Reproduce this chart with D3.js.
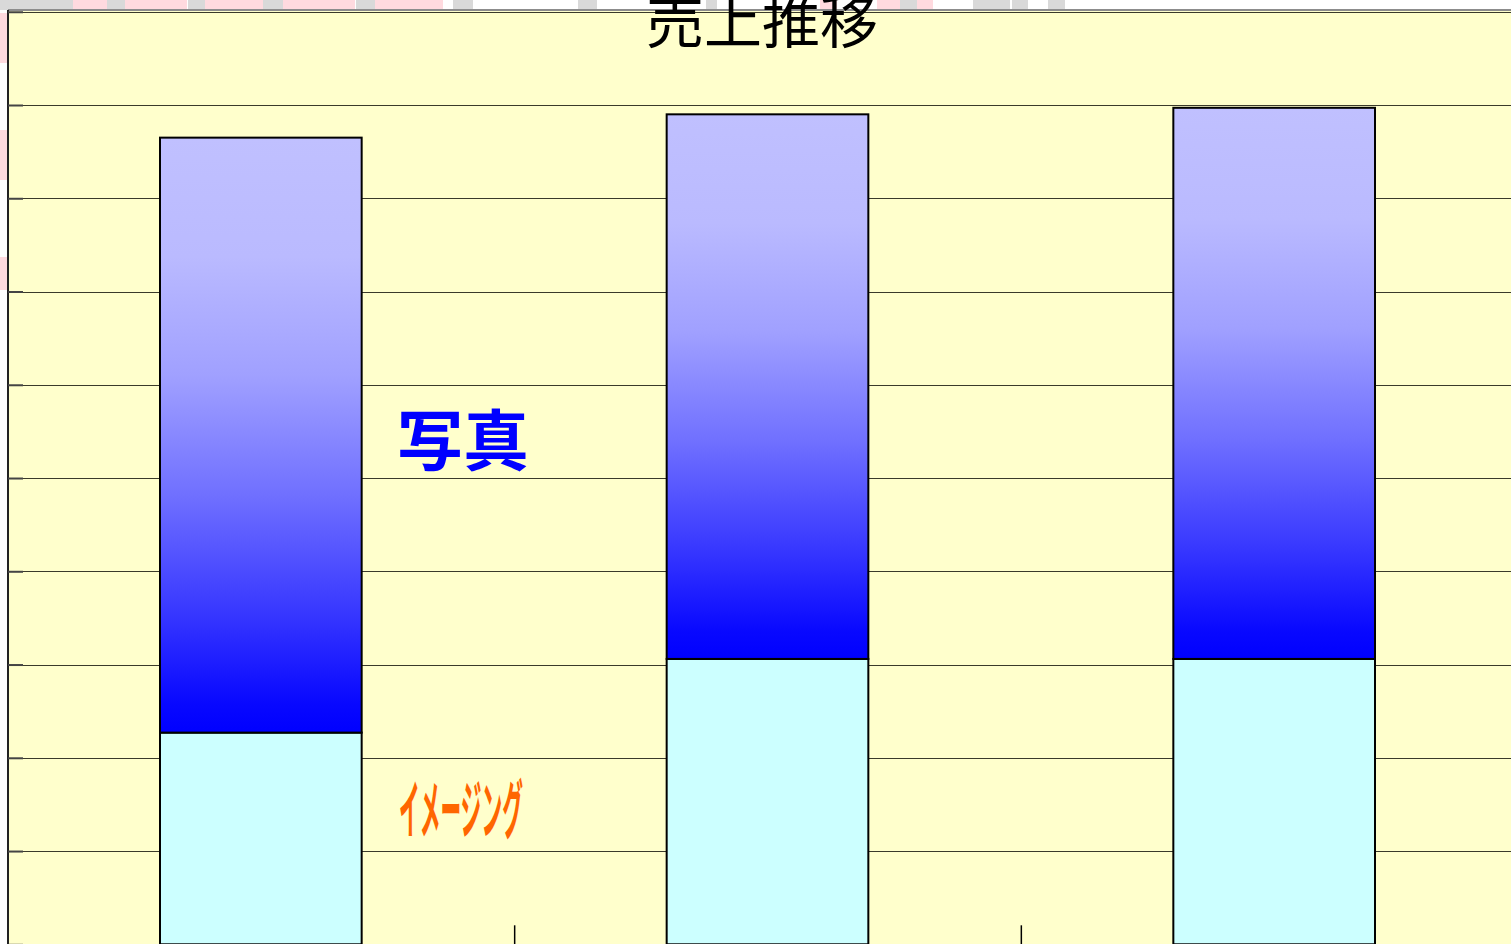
<!DOCTYPE html>
<html>
<head>
<meta charset="utf-8">
<script src="https://cdn.jsdelivr.net/npm/d3@7"></script>
<style>
html, body { margin: 0; padding: 0; background: #fff; overflow: hidden; }
</style>
</head>
<body>
<div id="canvas"></div>
<script>
"use strict"

/* chart data (one gridline = 100) */
let categories = ["期1", "期2", "期3"];
let imaging = [227, 306, 306];   // lower segment
let photo = [638, 584, 591];     // upper segment
let yTicks = [0, 100, 200, 300, 400, 500, 600, 700, 800, 900, 1000];
let seriesKeys = ["imaging", "photo"];
let seriesLabels = ["イメージング", "写真"];
let chartTitle = "売上推移";

/* background stamp that peeks out above the plot (decoration only) */
let stampBits = [
    [0, 73, "#d9d9d9"], [73, 34, "#ffdadf"], [107, 18, "#d9d9d9"], [125, 62, "#ffdadf"],
    [188, 17, "#d9d9d9"], [205, 58, "#ffdadf"], [263, 20, "#d9d9d9"], [283, 72, "#ffdadf"],
    [356, 19, "#d9d9d9"], [375, 68, "#ffdadf"], [453, 20, "#d9d9d9"], [578, 19, "#d9d9d9"],
    [706, 11, "#d9d9d9"], [820, 17, "#ffdadf"], [877, 23, "#ffdadf"], [900, 17, "#d9d9d9"],
    [917, 16, "#ffdadf"], [973, 37, "#d9d9d9"], [1012, 16, "#d9d9d9"], [1048, 17, "#d9d9d9"]
];

let W = 1511, H = 944;
let plot = { left: 8, right: 1528, top: 10, bottom: 944.3 };

let drawing = d3.select("#canvas")
    .append("svg")
    .attr("width", W)
    .attr("height", H);

/* stamp behind the plot */
drawing.append("g").selectAll("rect")
    .data(stampBits)
    .join("rect")
    .attr("x", d => d[0])
    .attr("y", 0)
    .attr("width", d => d[1])
    .attr("height", 10)
    .attr("fill", d => d[2]);
// pink pieces sticking out on the left edge
[[13, 50], [130, 50], [257, 33]].forEach(p => {
    drawing.append("rect").attr("x", 0).attr("y", p[0]).attr("width", 8).attr("height", p[1]).attr("fill", "#ffdadf");
});

/* scales */
let x = d3.scaleBand()
    .domain(categories)
    .range([plot.left, plot.right])
    .paddingInner(0.6)
    .paddingOuter(0.3);

let y = d3.scaleLinear()
    .domain([0, 1000])
    .range([plot.bottom, 11.75]);

/* plot area */
drawing.append("rect")
    .attr("x", plot.left)
    .attr("y", plot.top)
    .attr("width", plot.right - plot.left)
    .attr("height", H - plot.top + 5)
    .attr("fill", "#ffffcc");

// gridlines
drawing.append("g")
    .attr("transform", `translate(${plot.left},0)`)
    .call(d3.axisLeft(y).tickValues(yTicks).tickSize(-(plot.right - plot.left)).tickFormat(""))
    .call(g => g.select(".domain").remove())
    .call(g => g.selectAll("line").attr("stroke", "#3a3a2a").attr("stroke-width", 1).attr("shape-rendering", "crispEdges"));

/* gradient for the photo series */
let defs = drawing.append("defs");
let grad = defs.append("linearGradient")
    .attr("id", "photoGrad")
    .attr("x1", 0).attr("y1", 0).attr("x2", 0).attr("y2", 1);
[[0, 192], [0.2, 186], [0.4, 160], [0.6, 112], [0.8, 55], [0.95, 8], [1, 0]].forEach(s => {
    grad.append("stop").attr("offset", s[0]).attr("stop-color", d3.rgb(s[1], s[1], 255));
});

/* stacked bars */
let table = categories.map((c, i) => ({ cat: c, imaging: imaging[i], photo: photo[i] }));
let stacked = d3.stack().keys(seriesKeys)(table);
let fills = { imaging: "#ccffff", photo: "url(#photoGrad)" };

drawing.append("g").selectAll("g")
    .data(stacked)
    .join("g")
    .attr("fill", d => fills[d.key])
    .selectAll("rect")
    .data(d => d)
    .join("rect")
    .attr("x", d => x(d.data.cat))
    .attr("y", d => y(d[1]))
    .attr("width", x.bandwidth() - 1)
    .attr("height", d => y(d[0]) - y(d[1]))
    .attr("stroke", "#000")
    .attr("stroke-width", 2);

/* plot border: top grey, left axis dark with inner ticks */
drawing.append("line")
    .attr("x1", plot.left).attr("x2", plot.right)
    .attr("y1", plot.top).attr("y2", plot.top)
    .attr("stroke", "#8c8c8c").attr("stroke-width", 2);

drawing.append("g")
    .attr("transform", `translate(${plot.left},0)`)
    .call(d3.axisLeft(y).tickValues(yTicks).tickSizeInner(-15).tickSizeOuter(0).tickFormat(""))
    .call(g => g.select(".domain").attr("stroke", "#222").attr("stroke-width", 2).attr("d", `M0,${plot.top}V${H + 5}`))
    .call(g => g.selectAll("line").attr("stroke", "#444").attr("stroke-width", 2));

// category separators on the bottom axis
drawing.append("g").selectAll("line")
    .data(categories.slice(0, -1))
    .join("line")
    .attr("x1", d => x(d) + x.bandwidth() + (x.step() - x.bandwidth()) / 2)
    .attr("x2", d => x(d) + x.bandwidth() + (x.step() - x.bandwidth()) / 2)
    .attr("y1", y(0) - 19)
    .attr("y2", y(0))
    .attr("stroke", "#000")
    .attr("stroke-width", 1.5);

/* title (cut off by the top edge, as in the source) */
drawing.append("text")
    .attr("x", 762)
    .attr("y", 43)
    .attr("text-anchor", "middle")
    .attr("font-family", "'Noto Sans CJK JP', sans-serif")
    .attr("font-size", 58)
    .attr("fill", "#000")
    .text(chartTitle);

/* series labels */
drawing.append("text")
    .attr("x", 397)
    .attr("y", 465)
    .attr("font-family", "'Noto Sans CJK JP', sans-serif")
    .attr("font-weight", "bold")
    .attr("font-size", 66)
    .attr("fill", "#0000ff")
    .text(seriesLabels[1]);

drawing.append("text")
    .attr("x", 399)
    .attr("y", 833)
    .attr("font-family", "'Noto Sans CJK JP', sans-serif")
    .attr("font-weight", "bold")
    .attr("font-size", 64)
    .attr("textLength", 124)
    .attr("lengthAdjust", "spacingAndGlyphs")
    .attr("fill", "#ff6600")
    .text(seriesLabels[0]);
</script>
</body>
</html>
